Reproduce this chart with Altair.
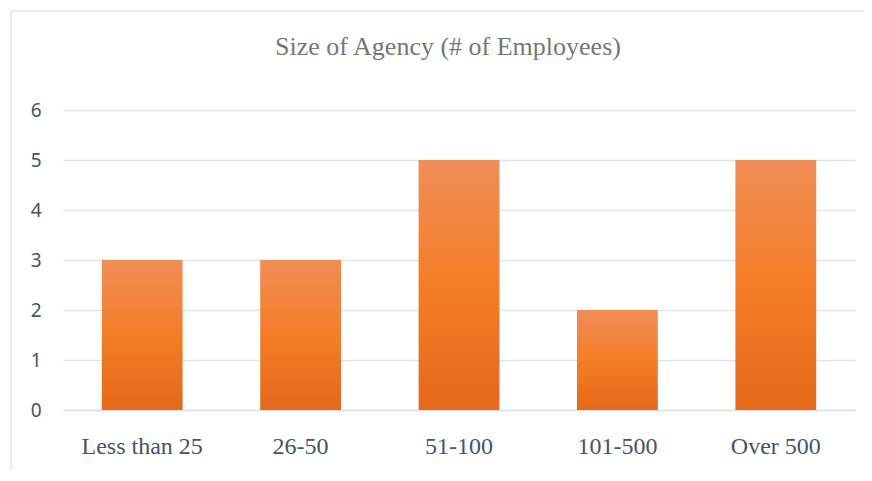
import altair as alt
import pandas as pd

categories = ["Less than 25", "26-50", "51-100", "101-500", "Over 500"]
values = [3, 3, 5, 2, 5]
y_ticks = [0, 1, 2, 3, 4, 5, 6]
title_text = "Size of Agency (# of Employees)"

df = pd.DataFrame({"size": categories, "count": values})

grad = alt.Gradient(
    gradient="linear",
    stops=[
        alt.GradientStop(color="#F08D57", offset=0),
        alt.GradientStop(color="#F47D27", offset=0.5),
        alt.GradientStop(color="#E4691A", offset=1),
    ],
    x1=0, x2=0, y1=0, y2=1,
)

W, H = 792, 300

border = alt.Chart(pd.DataFrame({"a": [0]})).mark_rect(
    fill=None, stroke="#DADDE2", strokeWidth=1.2
).encode(
    x=alt.value(-52), x2=alt.value(W + 80),
    y=alt.value(-99), y2=alt.value(H + 120),
)

title = alt.Chart(pd.DataFrame({"t": [title_text]})).mark_text(
    font="Liberation Serif", fontSize=26, color="#767676",
    align="center", baseline="alphabetic"
).encode(
    text="t:N", x=alt.value(385), y=alt.value(-55),
)

bars = alt.Chart(df).mark_bar(color=grad).encode(
    x=alt.X("size:N", sort=categories,
            scale=alt.Scale(paddingInner=0.49, paddingOuter=0.245),
            axis=alt.Axis(title=None, labelAngle=0, labelFont="Liberation Serif",
                          labelFontSize=24, labelColor="#44546A", labelPadding=24,
                          ticks=False, domainColor="#DDE1E7", domainWidth=1.5)),
    y=alt.Y("count:Q", scale=alt.Scale(domain=[0, 6]),
            axis=alt.Axis(title=None, values=y_ticks, labelFont="Noto Sans",
                          labelFontSize=19, labelColor="#44546A", labelPadding=22,
                          ticks=False, domain=False, gridColor="#E1E4EA",
                          gridWidth=1.5)),
)

chart = alt.layer(border, bars, title).properties(
    width=W, height=H,
    padding={"left": 55, "top": 102, "right": 9, "bottom": 60},
    autosize=alt.AutoSizeParams(type="none"),
).configure_view(stroke=None)

chart.save("out.html", embed_options={"renderer": "svg", "actions": False})
